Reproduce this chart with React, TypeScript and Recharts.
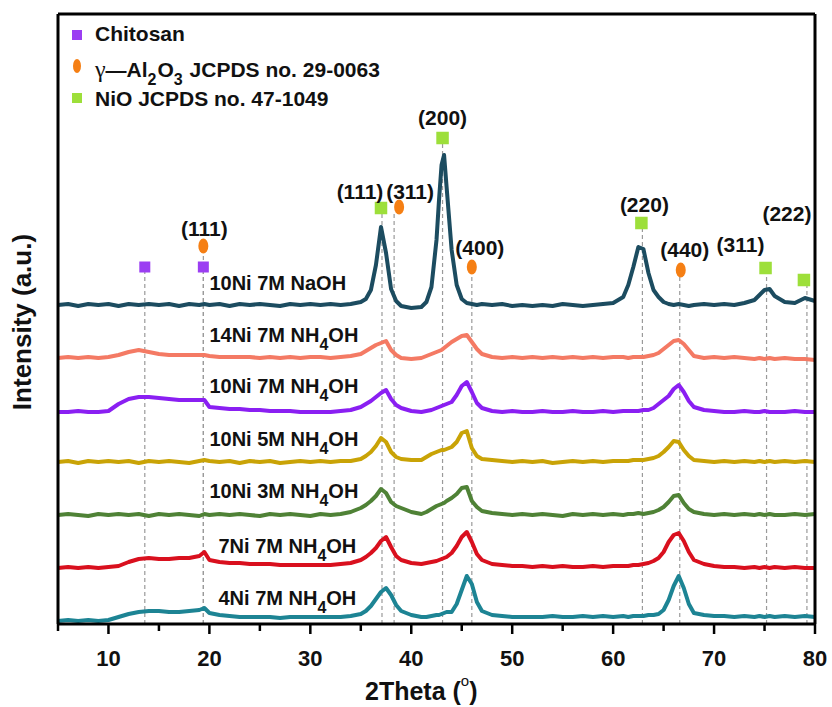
import React from 'react';
import {
  ComposedChart,
  Customized,
  Line,
  ReferenceDot,
  ReferenceLine,
  XAxis,
  YAxis,
} from 'recharts';

// 2theta grid (deg), denser around the reflections
const TWO_THETA = [
  5, 6, 7, 8, 9, 10, 11, 12, 13, 14,
  15, 16, 17, 18, 19, 19.5, 20, 21, 22, 23,
  24, 25, 26, 27, 28, 29, 30, 31, 32, 33,
  34, 35, 35.5, 36, 36.5, 37, 37.5, 38, 38.5, 39,
  40, 41, 41.5, 42, 42.5, 42.75, 43, 43.25, 43.5, 44,
  44.5, 45, 45.5, 46, 46.5, 47, 48, 49, 50, 51,
  52, 53, 54, 55, 56, 57, 58, 59, 60, 61,
  61.5, 62, 62.5, 63, 63.5, 64, 64.5, 65, 65.5, 66,
  66.5, 67, 67.5, 68, 69, 70, 71, 72, 73, 74,
  74.5, 75, 75.5, 76, 77, 78, 79, 80,
];

// intensities (a.u.), each relative to its own baseline
const ni4_7M_NH4OH = [
  -1, 0, -1, 0, -1, 0, 3, 6, 8, 9,
  9, 8, 8, 9, 10, 12, 7, 5, 4, 3,
  3, 3, 3, 2, 3, 3, 3, 3, 3, 3,
  4, 6, 9, 14, 21, 28, 32, 25, 15, 9,
  5, 3, 3, 4, 5, 5, 6, 7, 8, 8,
  16, 30, 44, 36, 18, 9, 5, 4, 3, 3,
  3, 3, 4, 3, 3, 4, 3, 4, 3, 4,
  3, 4, 4, 4, 5, 5, 6, 10, 20, 34,
  44, 32, 16, 7, 5, 4, 4, 3, 4, 3,
  4, 3, 4, 3, 4, 3, 4, 3,
];
const ni7_7M_NH4OH = [
  0, 1, 0, 1, 0, 1, 2, 6, 9, 10,
  9, 9, 10, 10, 12, 16, 8, 6, 5, 5,
  4, 4, 4, 3, 3, 3, 3, 3, 3, 4,
  5, 8, 11, 15, 20, 27, 31, 21, 12, 8,
  5, 4, 5, 6, 7, 8, 9, 10, 11, 15,
  22, 31, 36, 26, 14, 8, 4, 3, 2, 2,
  1, 2, 1, 2, 1, 1, 2, 1, 2, 2,
  2, 3, 3, 4, 5, 7, 10, 16, 26, 33,
  35, 27, 16, 8, 4, 2, 1, 1, 0, 1,
  0, 1, 0, 1, 0, 1, 0, 0,
];
const ni10_3M_NH4OH = [
  0, 1, 0, -1, 1, 0, 1, 0, 1, -1,
  1, 0, 1, 0, -1, 1, 0, 1, 0, 1,
  0, -1, 1, 0, 1, 0, -1, 1, 0, 1,
  3, 7, 10, 14, 19, 26, 22, 13, 9, 7,
  3, 1, 3, 6, 9, 10, 11, 12, 14, 17,
  21, 27, 28, 14, 8, 4, 2, 1, 0, 1,
  0, 1, 0, -1, 1, 0, 1, 0, 1, 0,
  1, 1, 2, 1, 2, 3, 5, 8, 13, 19,
  20, 12, 6, 3, 1, 0, 1, 0, 1, 0,
  1, 0, 1, 0, 0, 1, 0, 1,
];
const ni10_5M_NH4OH = [
  0, 1, -1, 1, 0, 1, 0, 1, -1, 1,
  0, 1, 0, -1, 1, 2, 1, 0, 1, -1,
  1, 0, 1, -1, 0, 1, 0, 1, 0, 1,
  1, 3, 6, 10, 16, 24, 20, 10, 5, 3,
  2, 2, 5, 8, 10, 11, 12, 12, 13, 15,
  20, 29, 31, 14, 6, 3, 2, 1, 0, 1,
  0, 1, -1, 0, 1, 0, 1, 0, 1, 1,
  1, 2, 2, 2, 3, 4, 6, 10, 15, 21,
  20, 12, 6, 2, 1, 0, 1, 0, 1, 0,
  1, 0, 1, 0, 1, 0, 1, 0,
];
const ni10_7M_NH4OH = [
  0, 0, 1, 0, 0, 1, 8, 13, 15, 15,
  14, 13, 12, 12, 12, 12, 5, 4, 3, 3,
  2, 2, 1, 1, 1, 0, 0, 0, 0, 1,
  2, 5, 8, 11, 15, 19, 22, 13, 7, 4,
  1, 0, 1, 2, 4, 5, 6, 7, 8, 10,
  17, 26, 30, 20, 9, 4, 1, 0, 1, 0,
  0, 1, 0, 0, 1, 0, 0, 1, 0, 1,
  1, 1, 1, 2, 2, 4, 8, 12, 16, 23,
  27, 20, 11, 5, 2, 1, 0, 0, 1, 0,
  0, 1, 0, 0, 0, 1, 0, 0,
];
const ni14_7M_NH4OH = [
  0, 1, 0, 1, 0, 1, 3, 6, 8, 6,
  4, 3, 3, 3, 3, 3, 2, 1, 1, 1,
  1, 0, 1, 0, 1, 0, 1, 1, 0, 1,
  2, 4, 7, 10, 13, 15, 17, 8, 3, 0,
  -1, 0, 2, 4, 6, 7, 8, 10, 12, 16,
  19, 22, 23, 16, 9, 4, 1, 0, 1, 0,
  1, 0, 1, 0, 1, 0, 1, 0, 1, 1,
  0, 1, 1, 1, 2, 3, 5, 9, 13, 17,
  18, 14, 8, 2, 0, 1, 0, 1, 0, -1,
  0, -1, 0, -1, 0, -1, -1, -2,
];
const ni10_7M_NaOH = [
  0, 1, -1, 1, 0, 1, -1, 1, 0, 1,
  0, 1, -1, 1, 0, 1, 0, 1, -1, 1,
  0, 1, 0, -1, 1, 0, 1, 0, 1, 0,
  1, 3, 6, 15, 40, 78, 52, 16, 4, -1,
  -3, -2, 3, 18, 65, 105, 140, 150, 118, 55,
  20, 6, 2, 1, 0, 1, 0, 1, -1, 0,
  -1, 0, -1, 1, 0, -1, 0, 1, 2, 8,
  20, 38, 58, 56, 32, 15, 8, 3, 1, 0,
  1, 0, -1, 0, 1, 0, 1, 0, 2, 5,
  10, 15, 16, 9, 3, 2, 7, 4,
];

const SAMPLE_NAMES = [
  '4Ni 7M NH4OH',
  '7Ni 7M NH4OH',
  '10Ni 3M NH4OH',
  '10Ni 5M NH4OH',
  '10Ni 7M NH4OH',
  '14Ni 7M NH4OH',
  '10Ni 7M NaOH',
];
const SAMPLE_VALUES = [
  ni4_7M_NH4OH,
  ni7_7M_NH4OH,
  ni10_3M_NH4OH,
  ni10_5M_NH4OH,
  ni10_7M_NH4OH,
  ni14_7M_NH4OH,
  ni10_7M_NaOH,
];

// reference reflections (2theta)
const CHITOSAN_PEAKS = [13.6, 19.4];
const ALUMINA_PEAKS = [19.4, 38.3, 46.0, 66.6];
const ALUMINA_HKL = ['(111)', '(311)', '(400)', '(440)'];
const NIO_PEAKS = [37.1, 43.1, 62.9, 75.2, 79.2];
const NIO_HKL = ['(111)', '(200)', '(220)', '(311)', '(222)'];

const X_TICKS = [5, 10, 15, 20, 25, 30, 35, 40, 45, 50, 55, 60, 65, 70, 75, 80];

// ---- layout / style ----
const FONT = '"Liberation Sans", Arial, Helvetica, sans-serif';
const COLORS = ['#1d8494', '#d9101e', '#4f8236', '#c9a306', '#8a1ff2', '#f47a64', '#1c4c60'];
const STACK = [4, 56, 109, 162, 212, 266, 319];
const LABEL_LIFT = [15, 15, 17, 16, 19, 16, 15];
const LABEL_X = [20.9, 20.9, 20.0, 20.0, 20.0, 20.0, 20.0];
const Y_MAX = 610;

const CHITOSAN_Y = 357;
const ALUMINA_Y = [378, 417, 357, 354];
const ALUMINA_DX = [0, 5, 0, 1];
const ALUMINA_LABEL = [
  { y: 395, dx: 1 },
  { y: 432, dx: 16 },
  { y: 376, dx: 8 },
  { y: 374, dx: 5 },
];
const NIO_Y = [416, 486, 401, 356, 344];
const NIO_DX = [-1, 0, -1, -1, -3];
const NIO_LABEL = [
  { y: 432, dx: -22 },
  { y: 506, dx: 0 },
  { y: 419, dx: 2 },
  { y: 379, dx: -26 },
  { y: 410, dx: -20 },
];

const PURPLE = '#9b3ef2';
const ORANGE = '#f57f14';
const LIME = '#9ddf3a';

const rows = TWO_THETA.map((t, i) => {
  const row: Record<string, number> = { t };
  SAMPLE_VALUES.forEach((vals, s) => {
    row['s' + s] = vals[i] + STACK[s];
  });
  return row;
});

function renderFormula(name: string) {
  const m = name.match(/^(.*NH)4(OH)$/);
  if (!m) return name;
  return (
    <>
      {m[1]}
      <tspan dy={8} fontSize={16}>4</tspan>
      <tspan dy={-8}>{m[2]}</tspan>
    </>
  );
}

function AxisTick(props: any) {
  const { x, y, payload } = props;
  const major = payload.value % 10 === 0;
  return (
    <g>
      <line x1={x} x2={x} y1={y} y2={y + (major ? 10 : 7)} stroke="#000" strokeWidth={2.5} />
      {major && (
        <text x={x} y={y + 42} textAnchor="middle" fontSize={22} fontWeight="bold" fontFamily={FONT} fill="#111">
          {payload.value}
        </text>
      )}
    </g>
  );
}

const square = (color: string, size: number) => (p: any) => (
  <rect x={p.cx - size / 2} y={p.cy - size / 2} width={size} height={size} fill={color} />
);
const oval = (p: any) => <ellipse cx={p.cx} cy={p.cy} rx={5} ry={7.5} fill={ORANGE} />;

const hklText = (text: string) => (p: any) => (
  <text x={p.cx} y={p.cy} dy="0.35em" textAnchor="middle" fontSize={21} fontWeight="bold" fontFamily={FONT} fill="#111">
    {text}
  </text>
);

function Decorations() {
  return (
    <g fontFamily={FONT} fontWeight="bold" fill="#111">
      {/* legend */}
      <rect x={72} y={30} width={10} height={10} fill={PURPLE} />
      <text x={95} y={41} fontSize={21}>Chitosan</text>
      <ellipse cx={77} cy={66} rx={4} ry={7} fill={ORANGE} />
      <text x={95} y={77} fontSize={21}>
        <tspan fontFamily='"Liberation Serif", serif' fontWeight="normal" fontSize={24}>γ</tspan>
        <tspan>—Al</tspan>
        <tspan dy={8} fontSize={16}>2</tspan>
        <tspan dy={-8} dx={1}>O</tspan>
        <tspan dy={8} fontSize={16}>3</tspan>
        <tspan dy={-8} dx={1}> JCPDS no. 29-0063</tspan>
      </text>
      <rect x={72} y={93} width={10} height={10} fill={LIME} />
      <text x={95} y={106} fontSize={21}>NiO JCPDS no. 47-1049</text>
      {/* axis titles */}
      <text x={31} y={322} fontSize={26} textAnchor="middle" transform="rotate(-90 31 322)">
        Intensity (a.u.)
      </text>
      <text x={365} y={700} fontSize={25}>
        2Theta (
        <tspan dy={-14} fontSize={15} fontWeight="normal">o</tspan>
        <tspan dy={14}>)</tspan>
      </text>
    </g>
  );
}

export default function App() {
  const frame = { stroke: '#000', strokeWidth: 3 };
  return (
    <div style={{ position: 'absolute', left: 0, top: 0, width: 832, height: 707, background: '#fff' }}>
      <ComposedChart width={832} height={707} data={rows} margin={{ top: 13, right: 16, bottom: 43, left: 57 }}>
        <XAxis
          xAxisId="b"
          dataKey="t"
          type="number"
          domain={[5, 80]}
          ticks={X_TICKS}
          interval={0}
          height={40}
          tickSize={0}
          tickMargin={0}
          tickLine={false}
          tick={<AxisTick />}
          axisLine={frame}
        />
        <XAxis
          xAxisId="top"
          orientation="top"
          dataKey="t"
          type="number"
          domain={[5, 80]}
          height={1}
          tick={false}
          tickLine={false}
          axisLine={frame}
        />
        <YAxis yAxisId="l" type="number" domain={[0, Y_MAX]} width={1} tick={false} tickLine={false} axisLine={frame} />
        <YAxis
          yAxisId="r"
          orientation="right"
          type="number"
          domain={[0, Y_MAX]}
          width={1}
          tick={false}
          tickLine={false}
          axisLine={frame}
        />

        {CHITOSAN_PEAKS.map((p) => (
          <ReferenceLine
            key={'cl' + p}
            xAxisId="b"
            yAxisId="l"
            segment={[{ x: p, y: 0 }, { x: p, y: CHITOSAN_Y }]}
            stroke="#9a9a9a"
            strokeWidth={1.2}
            strokeDasharray="4 3"
          />
        ))}
        {ALUMINA_PEAKS.map((p, i) => (
          <ReferenceLine
            key={'al' + i}
            xAxisId="b"
            yAxisId="l"
            segment={[{ x: p, y: 0 }, { x: p, y: ALUMINA_Y[i] - 6 }]}
            stroke="#9a9a9a"
            strokeWidth={1.2}
            strokeDasharray="4 3"
          />
        ))}
        {NIO_PEAKS.map((p, i) => (
          <ReferenceLine
            key={'nl' + i}
            xAxisId="b"
            yAxisId="l"
            segment={[{ x: p, y: 0 }, { x: p, y: NIO_Y[i] - 6 }]}
            stroke="#9a9a9a"
            strokeWidth={1.2}
            strokeDasharray="4 3"
          />
        ))}

        {SAMPLE_NAMES.map((name, s) => (
          <Line
            key={name}
            xAxisId="b"
            yAxisId="l"
            type="linear"
            dataKey={'s' + s}
            stroke={COLORS[s]}
            strokeWidth={4}
            strokeLinejoin="round"
            dot={false}
            activeDot={false}
            isAnimationActive={false}
          />
        ))}

        {SAMPLE_NAMES.map((name, s) => (
          <ReferenceDot
            key={'lbl' + s}
            xAxisId="b"
            yAxisId="l"
            x={LABEL_X[s]}
            y={STACK[s] + LABEL_LIFT[s]}
            r={0}
            shape={(p: any) => (
              <text x={p.cx} y={p.cy} fontSize={20} fontWeight="bold" fontFamily={FONT} fill="#111">
                {renderFormula(name)}
              </text>
            )}
          />
        ))}

        {CHITOSAN_PEAKS.map((p) => (
          <ReferenceDot key={'cm' + p} xAxisId="b" yAxisId="l" x={p} y={CHITOSAN_Y} r={6} shape={square(PURPLE, 11)} />
        ))}
        {ALUMINA_PEAKS.map((p, i) => (
          <ReferenceDot
            key={'am' + i}
            xAxisId="b"
            yAxisId="l"
            x={p}
            y={ALUMINA_Y[i]}
            r={6}
            shape={(q: any) => oval({ ...q, cx: q.cx + ALUMINA_DX[i] })}
          />
        ))}
        {ALUMINA_PEAKS.map((p, i) => (
          <ReferenceDot
            key={'at' + i}
            xAxisId="b"
            yAxisId="l"
            x={p}
            y={ALUMINA_LABEL[i].y}
            r={0}
            shape={(q: any) => hklText(ALUMINA_HKL[i])({ ...q, cx: q.cx + ALUMINA_LABEL[i].dx })}
          />
        ))}
        {NIO_PEAKS.map((p, i) => (
          <ReferenceDot
            key={'nm' + i}
            xAxisId="b"
            yAxisId="l"
            x={p}
            y={NIO_Y[i]}
            r={6}
            shape={(q: any) => square(LIME, 12.5)({ ...q, cx: q.cx + NIO_DX[i] })}
          />
        ))}
        {NIO_PEAKS.map((p, i) => (
          <ReferenceDot
            key={'nt' + i}
            xAxisId="b"
            yAxisId="l"
            x={p}
            y={NIO_LABEL[i].y}
            r={0}
            shape={(q: any) => hklText(NIO_HKL[i])({ ...q, cx: q.cx + NIO_LABEL[i].dx })}
          />
        ))}

        <Customized component={<Decorations />} />
      </ComposedChart>
    </div>
  );
}
